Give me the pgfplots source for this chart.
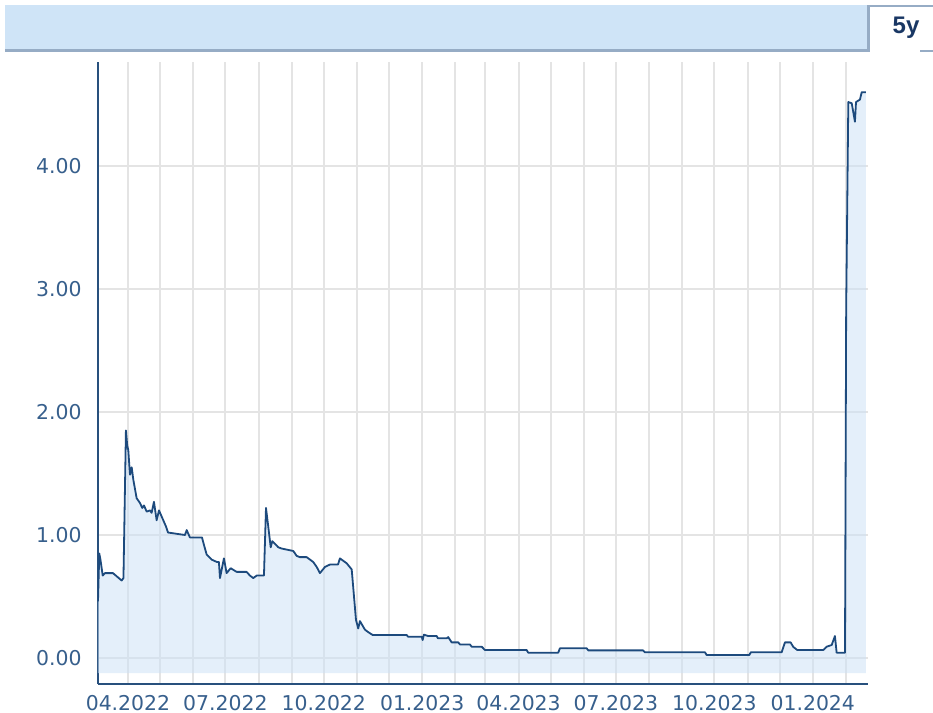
\documentclass[border=0pt]{standalone}
\usepackage{pgfplots}
\pgfplotsset{compat=1.18}
\usepackage{pgfplotstable}
\usepackage{fontspec}
\setmainfont{DejaVu Sans}
\newfontfamily\tabfont{Liberation Sans}
\definecolor{linec}{RGB}{29,74,125}
\definecolor{fillc}{RGB}{205,225,245}
\definecolor{gridc}{RGB}{228,228,228}
\definecolor{labc}{RGB}{55,95,140}
\definecolor{axisc}{RGB}{40,80,125}
\definecolor{headc}{RGB}{207,228,247}
\definecolor{headb}{RGB}{150,172,197}
\definecolor{tabtext}{RGB}{25,55,100}

% x = days since 2022-01-01
\pgfplotstableread{
d v
62.0 0.46
63.2 0.85
64.3 0.80
66.4 0.67
68.5 0.69
76.0 0.69
84.1 0.63
85.8 0.65
88.1 1.85
89.3 1.73
90.3 1.69
91.9 1.49
93.5 1.55
95.0 1.45
98.1 1.30
101.2 1.26
103.4 1.22
105.0 1.24
107.5 1.19
110.6 1.20
112.1 1.18
114.3 1.27
116.8 1.12
119.0 1.20
121.5 1.15
125.5 1.07
127.4 1.02
143.3 1.00
144.9 1.04
147.9 0.98
159.2 0.98
161.0 0.92
163.6 0.84
168.2 0.80
173.2 0.78
175.0 0.78
176.0 0.65
179.7 0.81
182.2 0.69
186.0 0.73
191.6 0.70
200.9 0.70
204.0 0.67
207.1 0.65
210.3 0.67
217.1 0.67
219.0 1.22
221.1 1.07
223.4 0.90
224.9 0.95
230.5 0.90
233.6 0.89
244.5 0.87
247.7 0.83
250.7 0.82
257.0 0.82
263.2 0.78
266.4 0.74
269.4 0.69
274.1 0.74
278.8 0.76
286.3 0.76
288.1 0.81
294.4 0.77
299.1 0.72
303.1 0.31
305.2 0.24
306.8 0.30
311.5 0.23
314.6 0.21
318.7 0.187
350.5 0.187
351.7 0.173
364.5 0.173
365.4 0.146
366.6 0.19
370.4 0.179
378.5 0.179
379.7 0.16
387.9 0.16
389.3 0.17
392.5 0.127
398.7 0.127
400.3 0.11
409.6 0.11
411.2 0.092
420.6 0.092
423.6 0.065
462.6 0.065
464.1 0.043
492.1 0.043
493.7 0.079
518.7 0.079
520.2 0.062
571.3 0.062
573.2 0.046
629.3 0.046
630.8 0.024
670.7 0.024
672.0 0.046
700.9 0.046
704.0 0.127
709.3 0.127
711.8 0.09
715.5 0.065
739.8 0.065
743.0 0.092
747.7 0.106
750.7 0.179
752.3 0.043
760.1 0.043
761.2 2.83
763.2 4.52
766.4 4.51
769.4 4.36
770.4 4.52
774.1 4.54
775.7 4.60
779.7 4.60
}\series

\begin{document}
\begin{tikzpicture}
\useasboundingbox (-49pt,-14.5pt) rectangle (417.5pt,342pt);
% header bar
\fill[headc] (-46.5pt,316pt) rectangle (386pt,339.5pt);
\draw[headb, line width=1.5pt] (-46.5pt,316.75pt) -- (385.25pt,316.75pt) -- (385.25pt,339.5pt);
\draw[headb, line width=1pt] (385.25pt,339pt) -- (417.5pt,339pt);
\draw[headb, line width=1pt] (411pt,316.5pt) -- (417.5pt,316.5pt);
\node[text=tabtext, font=\tabfont\bfseries\fontsize{12}{14}\selectfont] at (404pt,328pt) {5y};
\begin{axis}[
  at={(0,0)}, anchor=south west,
  scale only axis, width=385pt, height=311pt,
  xmin=62, xmax=781.6, ymin=-0.2114, ymax=4.8455,
  axis x line=bottom, axis y line=left,
  axis line style={-, draw=axisc, line width=1pt},
  xtick={90,181,273,365,455,546,638,730},
  xticklabels={04.2022,07.2022,10.2022,01.2023,04.2023,07.2023,10.2023,01.2024},
  minor xtick={120,151,212,243,304,334,396,424,485,516,577,608,669,699,761},
  ytick={0,1,2,3,4},
  yticklabels={0.00,1.00,2.00,3.00,4.00},
  xmajorgrids, xminorgrids, ymajorgrids,
  grid style={draw=gridc, line width=1pt},
  minor grid style={draw=gridc, line width=1pt},
  major tick length=0pt, minor tick length=0pt,
  /pgf/number format/assume math mode=true,
  tick label style={font=\fontsize{10.2}{12}\selectfont, text=labc, inner sep=0pt},
  xticklabel style={yshift=-5.5pt},
  yticklabel style={xshift=-8pt},
]
\addplot[draw=none, fill=fillc, fill opacity=0.55] table[x=d,y=v]{\series} |- (axis cs:62,-0.122) -- cycle;
\addplot[linec, line width=0.9pt, line join=round] table[x=d,y=v]{\series};
\end{axis}
\end{tikzpicture}
\end{document}
